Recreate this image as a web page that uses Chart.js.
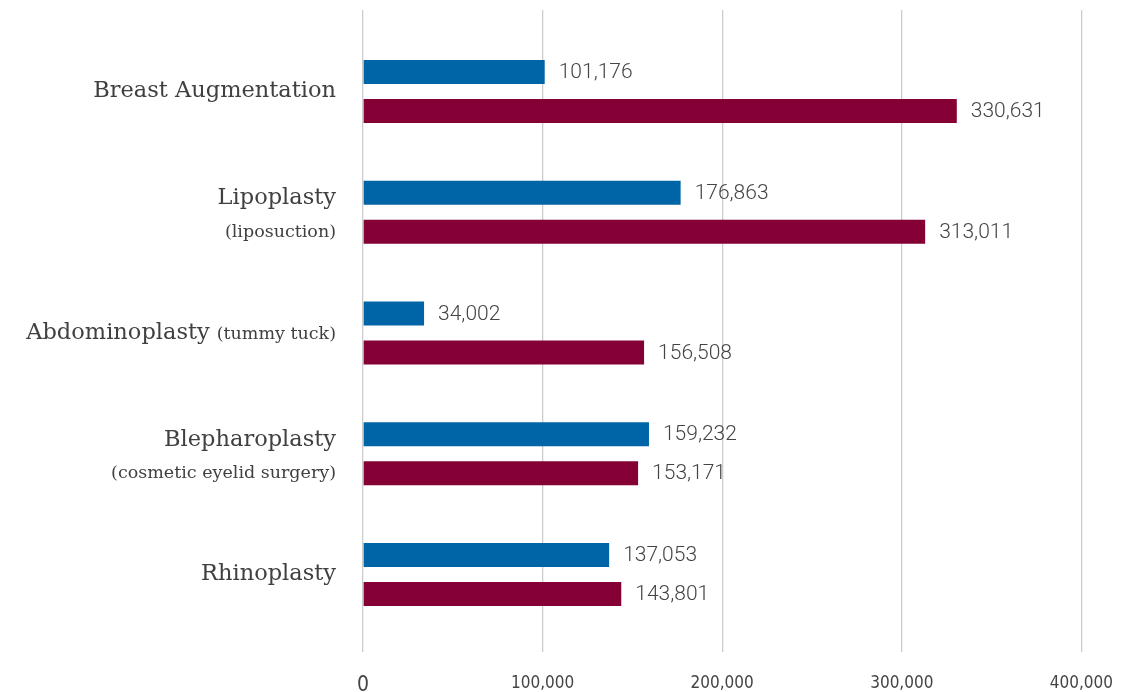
<!DOCTYPE html>
<html>
<head>
<meta charset="utf-8">
<script src="https://cdn.jsdelivr.net/npm/chart.js@4/dist/chart.umd.min.js"></script>
<style>
  html, body { margin: 0; padding: 0; background: #fff; }
  #wrap { width: 1134px; height: 692px; }
</style>
</head>
<body>
<div id="wrap"><canvas id="g_proc" width="1134" height="692"></canvas></div>
<script>
// data
var categories = ['Breast Augmentation', 'Lipoplasty', 'Abdominoplasty', 'Blepharoplasty', 'Rhinoplasty'];
var subLabels = ['', '(liposuction)', '(tummy tuck)', '(cosmetic eyelid surgery)', ''];
var subInline = [false, false, true, false, false];
var serieBlue = [101176, 176863, 34002, 159232, 137053];
var serieRed = [330631, 313011, 156508, 153171, 143801];
var xTicks = [0, 100000, 200000, 300000, 400000];

var labelFont = "'DejaVu Serif', 'Liberation Serif', serif";
var numFont = "'DejaVu Sans Condensed', 'Liberation Sans Narrow', sans-serif";

function puntos(vals){
    return vals.map(function(v, i){ return {x: v, y: i}; });
}

// category names on the left, big name + small note
var catLabels = {
    id: 'catLabels',
    afterDraw: function(chart){
        var ctx = chart.ctx;
        var y = chart.scales.y;
        var right = chart.chartArea.left - 27;
        ctx.save();
        ctx.fillStyle = '#404040';
        ctx.textAlign = 'right';
        ctx.textBaseline = 'middle';
        for (var i = 0; i < categories.length; i++) {
            var cy = y.getPixelForValue(i);
            var big = '22.5px ' + labelFont;
            var small = '17.5px ' + labelFont;
            if (!subLabels[i]) {
                ctx.font = big;
                ctx.fillText(categories[i], right, cy);
            } else if (subInline[i]) {
                ctx.font = small;
                var w = ctx.measureText(subLabels[i]).width;
                ctx.fillText(subLabels[i], right, cy + 1);
                ctx.font = big;
                ctx.fillText(categories[i], right - w - 7, cy);
            } else {
                ctx.font = big;
                ctx.fillText(categories[i], right, cy - 14);
                ctx.font = small;
                ctx.fillText(subLabels[i], right, cy + 20);
            }
        }
        ctx.restore();
    }
};

// numbers at the end of the bars
var barValues = {
    id: 'barValues',
    afterDatasetsDraw: function(chart){
        var ctx = chart.ctx;
        ctx.save();
        ctx.fillStyle = '#444';
        ctx.font = '300 21px Roboto, sans-serif';
        ctx.textAlign = 'left';
        ctx.textBaseline = 'middle';
        chart.data.datasets.forEach(function(ds, d){
            chart.getDatasetMeta(d).data.forEach(function(bar, i){
                ctx.fillText(ds.data[i].x.toLocaleString('en-US'), bar.x + 14, bar.y + 1);
            });
        });
        ctx.restore();
    }
};

var ctx = document.getElementById('g_proc');
var chart = new Chart(ctx, {
    type: 'bar',
    data: {
        datasets: [{
            label: 'Series 1',
            data: puntos(serieBlue),
            backgroundColor: '#0065a6'
        }, {
            label: 'Series 2',
            data: puntos(serieRed),
            backgroundColor: '#850035'
        }]
    },
    options: {
        indexAxis: 'y',
        responsive: false,
        animation: false,
        categoryPercentage: 0.646,
        barPercentage: 0.615,
        layout: { padding: { left: 363, right: 46, top: 10, bottom: 0 } },
        plugins: { legend: { display: false }, tooltip: { enabled: false } },
        scales: {
            x: {
                type: 'linear',
                min: 0,
                max: 400000,
                afterBuildTicks: function(axis){
                    axis.ticks = xTicks.map(function(v){ return {value: v}; });
                },
                afterFit: function(axis){ axis.height = 40; },
                border: { display: false },
                grid: { color: '#cccccc', lineWidth: 1.3, drawTicks: false },
                ticks: {
                    padding: 21,
                    color: '#444',
                    font: function(c){
                        return { family: numFont, size: c.tick && c.tick.value === 0 ? 21 : 17 };
                    },
                    callback: function(v){ return Number(v).toLocaleString('en-US'); }
                }
            },
            y: {
                type: 'linear',
                reverse: true,
                offset: false,
                min: -0.675,
                max: 4.642,
                display: false,
                ticks: { stepSize: 1, includeBounds: false }
            }
        }
    },
    plugins: [catLabels, barValues]
});
</script>
</body>
</html>
